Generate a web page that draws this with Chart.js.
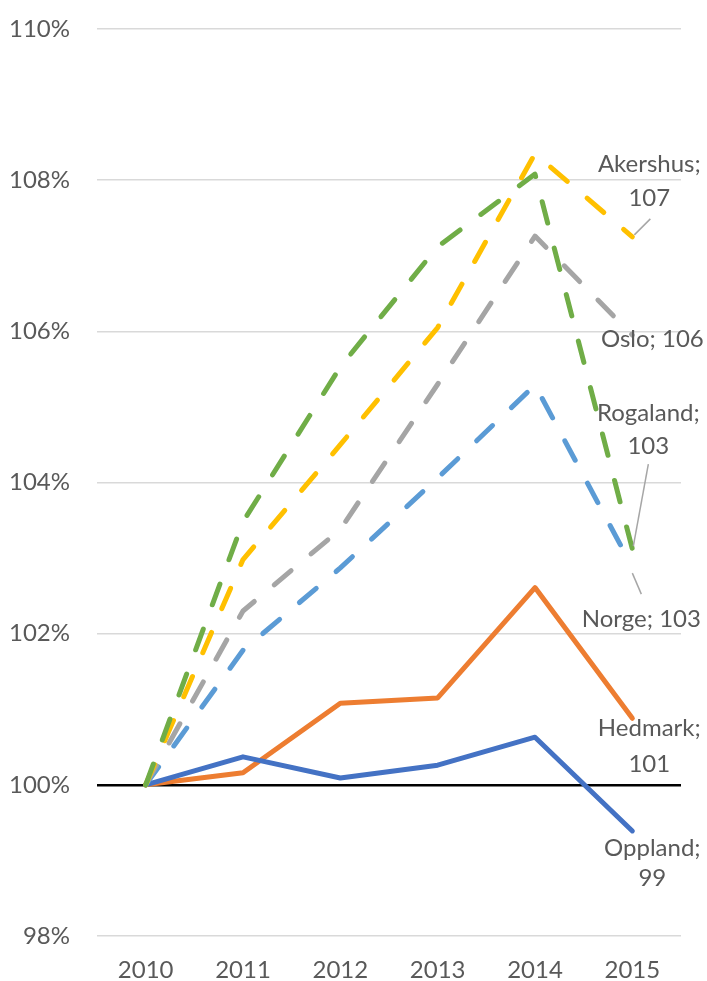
<!DOCTYPE html>
<html lang="no">
<head>
  <meta charset="UTF-8">
  <title>Indeks 2010 = 100</title>
  <script src="https://cdn.jsdelivr.net/npm/chart.js"></script>
  <style>
    body { margin: 0; background: #fff; }
    #wrap { width: 707px; height: 981px; }
  </style>
</head>
<body>
  <div id="wrap"><canvas id="grafikk" width="707" height="981"></canvas></div>

  <script>
    // data (2010 = 100)
    const years = ['2010', '2011', '2012', '2013', '2014', '2015'];
    const oppland = [100, 100.37, 100.09, 100.26, 100.63, 99.39];
    const hedmark = [100, 100.16, 101.08, 101.15, 102.61, 100.88];
    const norge = [100, 101.78, 102.87, 104.06, 105.29, 102.88];
    const oslo = [100, 102.3, 103.38, 105.3, 107.26, 105.95];
    const akershus = [100, 102.98, 104.5, 106.05, 108.35, 107.25];
    const rogaland = [100, 103.48, 105.53, 107.12, 108.08, 103.12];
    const yMin = 98, yMax = 110, yStep = 2;

    const textColor = '#595959';
    const fontFam = 'Lato, "Open Sans", sans-serif';

    // label placement relative to the last point of each line
    const labelPos = {
      Rogaland: { dx: 16, dy: [-136, -103], leader: [[16, -85], [1, -3]] },
      Akershus: { dx: 17, dy: [-73, -39], leader: [[18, -18], [2, -2]] },
      Oslo:     { dx: 20, dy: [4] },
      Norge:    { dx: 9,  dy: [52], leader: [[9, 27], [0, 6]] },
      Hedmark:  { dx: 17, dy: [10, 46] },
      Oppland:  { dx: 20, dy: [17, 47] }
    };

    function serie(navn, data, farge, stiplet) {
      return {
        label: navn,
        data: data,
        borderColor: farge,
        backgroundColor: farge,
        borderWidth: 5,
        borderDash: stiplet ? [22, 26] : [],
        borderCapStyle: 'round',
        borderJoinStyle: 'round',
        pointRadius: 0,
        tension: 0,
        fill: false
      };
    }

    const sluttEtiketter = {
      id: 'sluttEtiketter',
      afterDatasetsDraw(chart) {
        const ctx = chart.ctx;
        ctx.save();
        ctx.font = '24px ' + fontFam;
        ctx.fillStyle = textColor;
        ctx.textAlign = 'center';
        ctx.textBaseline = 'middle';
        chart.data.datasets.forEach((ds, i) => {
          const meta = chart.getDatasetMeta(i);
          const pt = meta.data[meta.data.length - 1];
          const pos = labelPos[ds.label];
          const verdi = Math.round(ds.data[ds.data.length - 1]);
          const linjer = pos.dy.length > 1 ? [ds.label + ';', String(verdi)] : [ds.label + '; ' + verdi];
          linjer.forEach((t, k) => ctx.fillText(t, pt.x + pos.dx, pt.y + pos.dy[k]));
          if (pos.leader) {
            ctx.strokeStyle = '#a6a6a6';
            ctx.lineWidth = 1.5;
            ctx.beginPath();
            ctx.moveTo(pt.x + pos.leader[0][0], pt.y + pos.leader[0][1]);
            ctx.lineTo(pt.x + pos.leader[1][0], pt.y + pos.leader[1][1]);
            ctx.stroke();
          }
        });
        ctx.restore();
      }
    };

    const grafikk = new Chart(document.getElementById('grafikk'), {
      type: 'line',
      data: {
        labels: years,
        datasets: [
          serie('Rogaland', rogaland, '#70AD47', true),
          serie('Akershus', akershus, '#FFC000', true),
          serie('Oslo', oslo, '#A5A5A5', true),
          serie('Norge', norge, '#5B9BD5', true),
          serie('Oppland', oppland, '#4472C4', false),
          serie('Hedmark', hedmark, '#ED7D31', false)
        ]
      },
      options: {
        responsive: false,
        animation: false,
        layout: { padding: { top: 29, right: 26, bottom: 0, left: 0 } },
        plugins: {
          legend: { display: false },
          tooltip: { enabled: false }
        },
        scales: {
          x: {
            offset: true,
            grid: { display: false, drawTicks: false },
            border: { display: false },
            ticks: { color: textColor, font: { family: fontFam, size: 24 }, padding: 20, maxRotation: 0 },
            afterFit: (s) => { s.height = 45; }
          },
          y: {
            min: yMin,
            max: yMax,
            grid: {
              drawTicks: false,
              color: (c) => c.tick && c.tick.value === 100 ? '#000000' : '#d9d9d9',
              lineWidth: (c) => c.tick && c.tick.value === 100 ? 2.5 : 1.5
            },
            border: { display: false },
            ticks: {
              stepSize: yStep,
              color: textColor,
              font: { family: fontFam, size: 24 },
              padding: 27,
              callback: (v) => v + '%'
            },
            afterFit: (s) => { s.width = 97; s.paddingTop = 0; s.paddingBottom = 0; }
          }
        }
      },
      plugins: [sluttEtiketter]
    });
  </script>
</body>
</html>
